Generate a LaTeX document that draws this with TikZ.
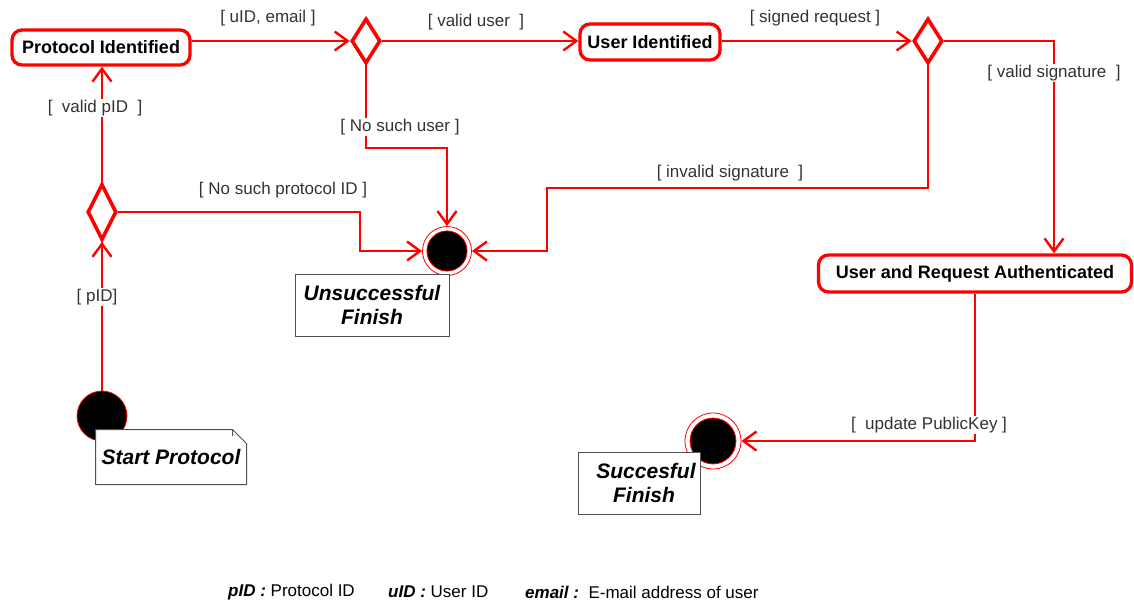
\documentclass[tikz,border=0pt]{standalone}
\usepackage{fontspec}
\setmainfont{Liberation Sans}
\usetikzlibrary{arrows.meta,shapes.geometric,calc,positioning}
\definecolor{flowred}{HTML}{FF0000}
\definecolor{notegray}{HTML}{505050}
\definecolor{guardgray}{HTML}{333333}
\tikzset{
  actstate/.style={draw=flowred, line width=3.3pt, rounded corners=10pt, inner sep=0pt,
    font=\fontsize{18}{20}\selectfont\bfseries},
  choice/.style={diamond, draw=flowred, line width=3.6pt, minimum width=29pt,
    minimum height=#1, inner sep=0pt},
  choice/.default=45pt,
  initnode/.style={circle, fill=black, draw=flowred, line width=0.8pt, minimum size=50pt, inner sep=0pt},
  finalnode/.style={circle, draw=flowred, line width=0.8pt, minimum size=#1, inner sep=0pt,
    path picture={\fill[black, draw=flowred, line width=0.8pt] (path picture bounding box.center) circle (0.41*#1);}},
  flow/.style={draw=flowred, line width=2.4pt, -{Straight Barb[length=13pt, width=19pt]}},
  guard/.style={font=\fontsize{17}{19}\selectfont, text=guardgray, inner sep=1pt},
  notebox/.style={draw=notegray, line width=1pt, fill=white, align=center,
    font=\fontsize{21}{24}\selectfont\bfseries\itshape},
  legend/.style={font=\fontsize{17}{19}\selectfont, anchor=west, inner sep=0pt}
}

\begin{document}
\begin{tikzpicture}[x=1pt, y=-1pt]
    \useasboundingbox (0,0) rectangle (1134,602);

    % states
    \node[actstate, minimum width=178pt, minimum height=35pt] (pid) at (101,47.5) {Protocol Identified};
    \node[actstate, minimum width=140pt, minimum height=36pt] (uid) at (650,42) {User Identified};
    \node[actstate, minimum width=313pt, minimum height=37pt] (auth) at (975,273.5) {User and Request Authenticated};

    % decisions
    \node[choice=56pt] (chpid) at (102,212) {};
    \node[choice] (chuser) at (366,41) {};
    \node[choice] (chsig) at (928,41) {};

    % start and ends
    \node[initnode] (start) at (102,416) {};
    \node[finalnode=49pt] (fail) at (447,251) {};
    \node[finalnode=56pt] (done) at (713,441) {};

    % transitions
    \draw[flow] (start) -- (chpid);
    \draw[flow] (chpid) -- (chpid |- pid.south);
    \draw[flow] (chpid.east) -| (360,251) -- (fail);
    \draw[flow] (pid.east |- chuser.west) -- (chuser.west);
    \draw[flow] (chuser.east) -- (uid.west |- chuser.east);
    \draw[flow] (chuser.south) |- (447,148) -- (fail);
    \draw[flow] (uid.east |- chsig.west) -- (chsig.west);
    \draw[flow] (chsig.south) |- (547,188) |- (fail.east);
    \draw[flow] (chsig.east) -| (1054,0 |- auth.north);
    \draw[flow] (auth.south) |- (done);

    % guards
    \node[guard, fill=white] (gpid) at (97,297) {[ pID]};
    \node[guard, fill=white] (gvalidpid) at (95,108) {[\ \ valid pID\ \ ]};
    \node[guard] (gnoproto) at (283,190) {[ No such protocol ID ]};
    \node[guard] (gmail) at (268,18) {[ uID, email ]};
    \node[guard] (gvaliduser) at (476,22) {[ valid user\ \ ]};
    \node[guard, fill=white] (gnouser) at (400,127) {[ No such user ]};
    \node[guard] (gsigned) at (815,18) {[ signed request ]};
    \node[guard] (ginvalid) at (730,173) {[ invalid signature\ \ ]};
    \node[guard, fill=white] (gvalidsig) at (1054,73) {[ valid signature\ \ ]};
    \node[guard, fill=white] (gupdate) at (929,425) {[\ \ update PublicKey ]};

    % notes
    \node[notebox, minimum width=154pt, minimum height=62pt] (failnote) at (372,305) {Unsuccessful\\Finish};
    \node[notebox, minimum width=122pt, minimum height=62pt] (donenote) at (639,483) {\hspace*{14pt}Succesful\\\hspace*{10pt}Finish};
    \node[notebox, draw=none, minimum width=150pt, minimum height=54pt] (startnote) at (171,457) {Start Protocol};
    \draw[notegray, line width=1pt] (startnote.north west) -- ($(startnote.north east)+(-14,0)$)
      -- ($(startnote.north east)+(0,14)$) -- (startnote.south east) -- (startnote.south west) -- cycle;
    \draw[notegray, line width=0.7pt] ($(startnote.north east)+(-14,0)$) -- ($(startnote.north east)+(-14,6)$);

    % legend
    \node[legend] (lgpid) at (228,592) {\textbf{\textit{pID :}} Protocol ID};
    \node[legend] (lguid) at (388,592) {\textbf{\textit{uID :}} User ID};
    \node[legend] (lgmail) at (525,592) {\textbf{\textit{email :}}\ \ E-mail address of user};
\end{tikzpicture}
\end{document}
